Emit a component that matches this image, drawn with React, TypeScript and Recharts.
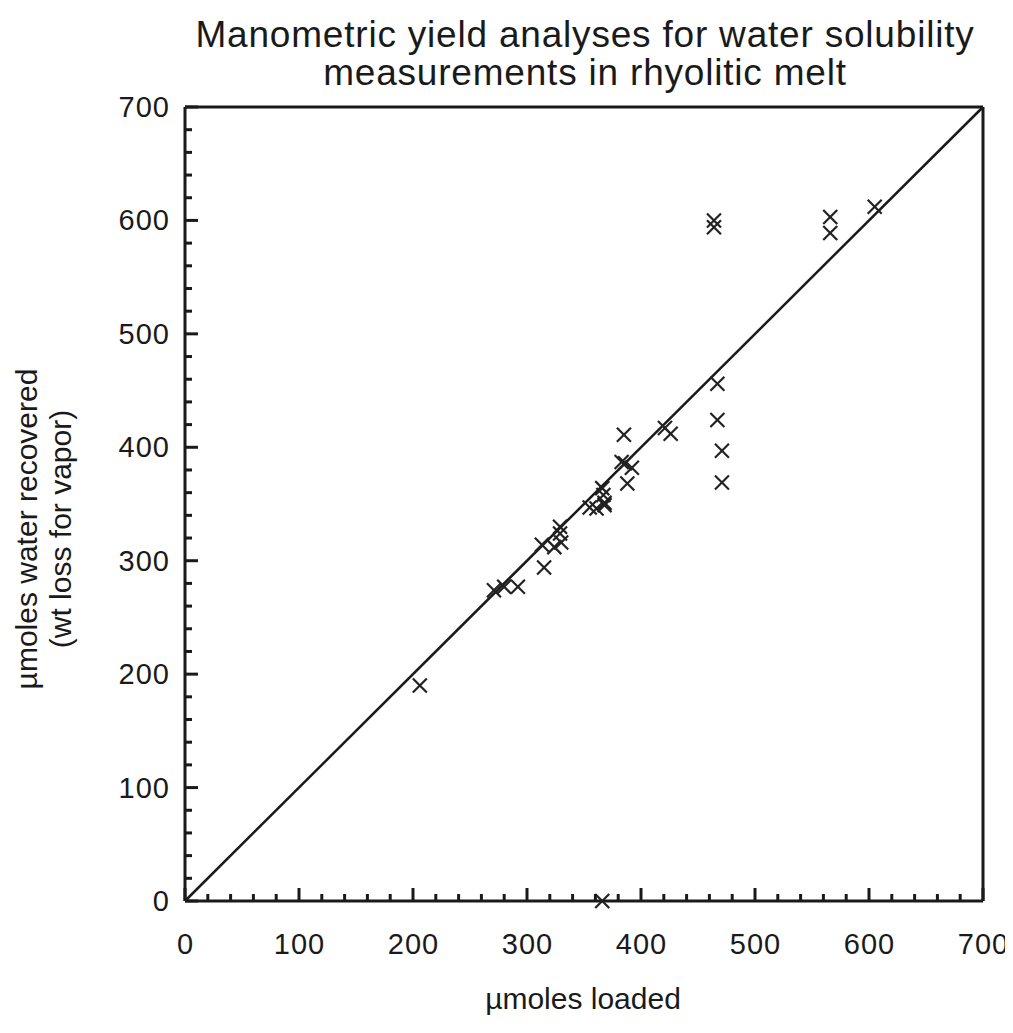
import { ReferenceLine, Scatter, ScatterChart, XAxis, YAxis } from "recharts";

// µmoles loaded (x) vs µmoles recovered (y)
const loaded = [206, 271, 280, 292, 315, 313, 324, 330, 329, 329, 355, 361, 368, 367, 366, 368, 386, 392, 388, 383, 385, 421, 426, 467, 467, 471, 471, 464, 464, 566, 566, 605, 366];
const recovered = [190, 274, 277, 277, 294, 314, 312, 316, 324, 330, 347, 346, 349, 358, 364, 351, 386, 382, 368, 387, 411, 417, 412, 456, 424, 397, 369, 600, 594, 603, 589, 612, 0];

const majorTicks = [0, 100, 200, 300, 400, 500, 600, 700];
const allTicks = [
  0, 20, 40, 60, 80, 100, 120, 140, 160, 180, 200, 220, 240, 260, 280, 300, 320, 340, 360, 380,
  400, 420, 440, 460, 480, 500, 520, 540, 560, 580, 600, 620, 640, 660, 680, 700,
];
const oneToOne = [
  { x: 0, y: 0 },
  { x: 700, y: 700 },
];

const points = loaded.map((x, i) => ({ x, y: recovered[i] }));

const FONT = '"Liberation Sans", Arial, Helvetica, sans-serif';
const INK = "#1a1a1a";
const MAJOR = 13;
const MINOR = 7;

const tickLen = (v: number) => (majorTicks.includes(v) ? MAJOR : MINOR);

function BottomTick({ x, y, payload }: any) {
  const v = payload.value;
  return (
    <g>
      <line x1={x} y1={y} x2={x} y2={y - tickLen(v)} stroke={INK} strokeWidth={3} />
      {majorTicks.includes(v) && (
        <text x={x + 0.5} y={y + 43} textAnchor="middle" dominantBaseline="central" fontSize={29} letterSpacing={1} fontFamily={FONT} fill={INK}>
          {v}
        </text>
      )}
    </g>
  );
}

function TopTick({ x, y, payload }: any) {
  return <line x1={x} y1={y} x2={x} y2={y + tickLen(payload.value)} stroke={INK} strokeWidth={3} />;
}

function LeftTick({ x, y, payload }: any) {
  const v = payload.value;
  return (
    <g>
      <line x1={x} y1={y} x2={x + tickLen(v)} y2={y} stroke={INK} strokeWidth={3} />
      {majorTicks.includes(v) && (
        <text x={x - 15} y={y} textAnchor="end" dominantBaseline="central" fontSize={29} letterSpacing={1} fontFamily={FONT} fill={INK}>
          {v}
        </text>
      )}
    </g>
  );
}

function RightTick({ x, y, payload }: any) {
  return <line x1={x} y1={y} x2={x - tickLen(payload.value)} y2={y} stroke={INK} strokeWidth={3} />;
}

function Cross({ cx, cy }: any) {
  const r = 7;
  return (
    <g stroke="#222" strokeWidth={2.2}>
      <line x1={cx - r} y1={cy - r} x2={cx + r} y2={cy + r} />
      <line x1={cx - r} y1={cy + r} x2={cx + r} y2={cy - r} />
    </g>
  );
}

export default function App() {
  return (
    <div style={{ position: "relative", width: 1005, height: 1017, fontFamily: FONT, color: INK, background: "#fff" }}>
      <div
        style={{
          position: "absolute",
          left: 127,
          top: 8,
          width: 900,
          textAlign: "center",
          fontSize: 37,
          lineHeight: "38px",
          letterSpacing: 0.8,
          whiteSpace: "nowrap",
        }}
      >
        Manometric yield analyses for water solubility
        <br />
        measurements in rhyolitic melt
      </div>
      <div
        style={{
          position: "absolute",
          left: 36 - 200,
          top: 521 - 34,
          width: 400,
          height: 68,
          textAlign: "center",
          fontSize: 30,
          lineHeight: "34px",
          transform: "rotate(-90deg)",
          whiteSpace: "nowrap",
        }}
      >
        µmoles water recovered
        <br />
        (wt loss for vapor)
      </div>
      <div
        style={{
          position: "absolute",
          left: 375,
          top: 974,
          width: 400,
          textAlign: "center",
          fontSize: 30,
          lineHeight: "34px",
        }}
      >
        µmoles loaded
      </div>
      <ScatterChart width={1005} height={1017} margin={{ top: 89, right: 20, bottom: 84, left: 117 }}>
        <XAxis
          xAxisId="b"
          dataKey="x"
          type="number"
          domain={[0, 700]}
          ticks={allTicks}
          interval={0}
          height={40}
          tickSize={0}
          tickMargin={0}
          tick={<BottomTick />}
          axisLine={{ stroke: INK, strokeWidth: 3 }}
        />
        <XAxis
          xAxisId="t"
          orientation="top"
          dataKey="x"
          type="number"
          domain={[0, 700]}
          ticks={allTicks}
          interval={0}
          height={10}
          tickSize={0}
          tickMargin={0}
          tick={<TopTick />}
          axisLine={{ stroke: INK, strokeWidth: 3 }}
        />
        <YAxis
          yAxisId="l"
          dataKey="y"
          type="number"
          domain={[0, 700]}
          ticks={allTicks}
          interval={0}
          width={60}
          tickSize={0}
          tickMargin={0}
          tick={<LeftTick />}
          axisLine={{ stroke: INK, strokeWidth: 3 }}
        />
        <YAxis
          yAxisId="r"
          orientation="right"
          dataKey="y"
          type="number"
          domain={[0, 700]}
          ticks={allTicks}
          interval={0}
          width={10}
          tickSize={0}
          tickMargin={0}
          tick={<RightTick />}
          axisLine={{ stroke: INK, strokeWidth: 3 }}
        />
        <ReferenceLine
          xAxisId="b"
          yAxisId="l"
          segment={oneToOne}
          stroke={INK}
          strokeWidth={2.5}
          ifOverflow="visible"
        />
        <Scatter xAxisId="b" yAxisId="l" data={points} shape={<Cross />} isAnimationActive={false} />
      </ScatterChart>
    </div>
  );
}
